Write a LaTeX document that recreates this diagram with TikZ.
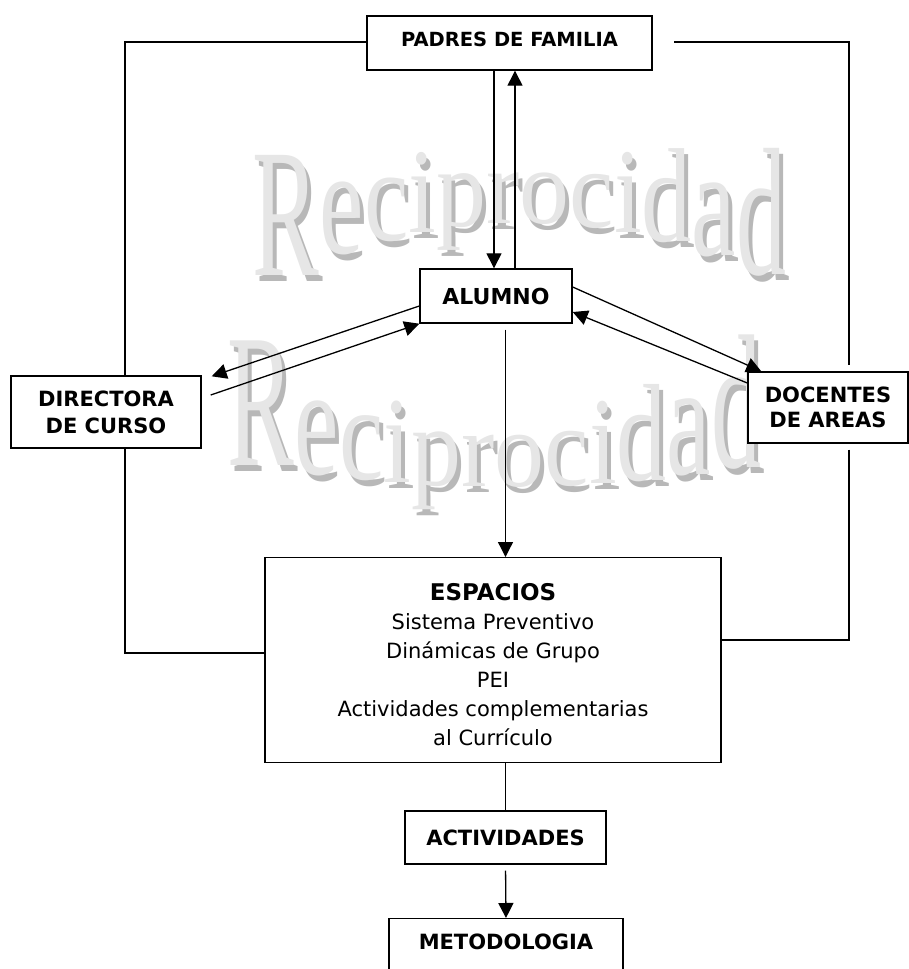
\documentclass[tikz,border=0pt]{standalone}
\usepackage{fontspec}
\setmainfont{DejaVu Sans}
\newfontfamily\marcafont{Liberation Serif}
\usetikzlibrary{arrows.meta,calc}
\definecolor{marcaclaro}{RGB}{230,230,230}
\definecolor{marcasombra}{RGB}{184,184,184}

\begin{document}
\begin{tikzpicture}[x=1pt,y=-1pt,
  caja/.style={draw,line width=1.4pt,fill=white,align=center,inner sep=0pt,
    font=\bfseries\fontsize{21}{26}\selectfont},
  linea/.style={line width=1.3pt},
  flecha/.style={line width=1.3pt,-{Triangle[length=15pt,width=15pt]}},
  letra/.style={inner sep=0pt,anchor=base,font=\marcafont\fontsize{100}{100}\selectfont}]
\clip (0,0) rectangle (909,969);
%
% --- Marca de agua "Reciprocidad" (arriba): base curva, tope recto ---
\foreach \capa/\dx/\dy/\col in {s/4/6/marcasombra,c/0/0/marcaclaro}
  \foreach \ch/\x [count=\i] in {R/286.3,e/341.9,c/386.3,i/422.4,p/461.3,r/503.0,
                                 o/544.6,c/591.8,i/627.9,d/666.8,a/714.0,d/761.2} {
    \pgfmathsetmacro\base{223+((\x-525)*0.0303)^2}
    \pgfmathsetmacro\esc{(\base-150)/68.3}
    \node[letra,text=\col,yscale=\esc] (arriba\capa\i) at (\x+\dx,\base+\dy) {\ch};
  }
%
% --- Marca de agua "Reciprocidad" (abajo): tope curvo ---
\foreach \capa/\dx/\dy/\col in {s/4/6/marcasombra,c/0/0/marcaclaro}
  \foreach \ch/\x [count=\i] in {R/261.3,e/316.9,c/361.3,i/397.4,p/436.3,r/478.0,
                                 o/519.6,c/566.8,i/602.9,d/641.8,a/689.0,d/736.2} {
    \pgfmathsetmacro\base{487-((\x-505)*0.019)^2}
    \pgfmathsetmacro\tope{413-((\x-500)*0.03688)^2}
    \pgfmathsetmacro\esc{(\base-\tope)/68.3}
    \node[letra,text=\col,yscale=\esc] (abajo\capa\i) at (\x+\dx,\base+\dy) {\ch};
  }
%
% --- Cajas ---
\node[caja,font=\bfseries\fontsize{19.5}{24}\selectfont,minimum width=285pt,
  text height=22pt,text depth=16pt,inner ysep=8pt] (padres) at (509.5,43) {PADRES DE FAMILIA};
\node[caja,font=\bfseries\fontsize{22}{26}\selectfont,minimum width=152pt,
  minimum height=54pt] (alumno) at (496,296) {ALUMNO};
\node[caja,font=\bfseries\fontsize{21}{27}\selectfont,minimum width=190pt,
  minimum height=72pt] (directora) at (106,412) {DIRECTORA\\DE CURSO};
\node[caja,font=\bfseries\fontsize{21}{25}\selectfont,minimum width=160pt,
  minimum height=71pt] (docentes) at (828,407.5) {DOCENTES\\DE AREAS};
\node[caja,font=\fontsize{21}{29}\selectfont,minimum width=456pt,
  anchor=north,text height=188pt,text depth=17pt,inner ysep=0pt] (espacios) at (493,557)
  {{\bfseries\fontsize{23}{29}\selectfont ESPACIOS}\\Sistema Preventivo\\Dinámicas de Grupo\\PEI\\
   Actividades complementarias\\al Currículo};
\node[caja,minimum width=201pt,minimum height=53pt] (actividades) at (505.5,837.5) {ACTIVIDADES};
\node[caja,anchor=north,minimum width=234pt,text height=22.5pt,text depth=50pt,
  inner ysep=8pt] (metodologia) at (506,918) {METODOLOGIA};
%
% --- Lineas de marco a izquierda y derecha ---
\coordinate (izqA) at (125,42);
\coordinate (izqB) at (125,653);
\coordinate (derI) at (674,42);
\coordinate (derA) at (849,42);
\coordinate (derB) at (849,640);
\draw[linea] (padres.west |- izqA) -- (izqA) -- (izqA |- directora.north);
\draw[linea] (izqA |- directora.south) -- (izqB) -- (izqB -| espacios.west);
\draw[linea,shorten >=6pt] (derI) -- (derA) -- (derA |- docentes.north);
\draw[linea,shorten <=6pt] (derA |- docentes.south) -- (derB) -- (derB -| espacios.east);
%
% --- Padres <-> Alumno ---
\coordinate (bajada) at (494,0);
\coordinate (subida) at (515,0);
\draw[flecha] (padres.south -| bajada) -- (alumno.north -| bajada);
\draw[flecha] (alumno.north -| subida) -- (padres.south -| subida);
%
% --- Alumno <-> Directora / Docentes ---
\draw[flecha] ($(alumno.west)+(0,10)$) -- ($(directora.north east)+(10,1)$);
\draw[flecha] ($(directora.east)+(9,-17)$) -- (alumno.south west);
\draw[flecha] ($(alumno.east)+(0,-9)$) -- ($(docentes.north west)+(14,0)$);
\draw[flecha] ($(docentes.west)+(0,-24.5)$) -- ($(alumno.east)+(0,16)$);
%
% --- Hacia abajo ---
\draw[flecha,shorten <=6pt] (alumno.south -| actividades.north) -- (espacios.north -| actividades.north);
\draw[linea] (espacios.south -| actividades.north) -- (actividades.north);
\draw[flecha,shorten <=6pt] (actividades.south) -- (metodologia.north);
\end{tikzpicture}
\end{document}
